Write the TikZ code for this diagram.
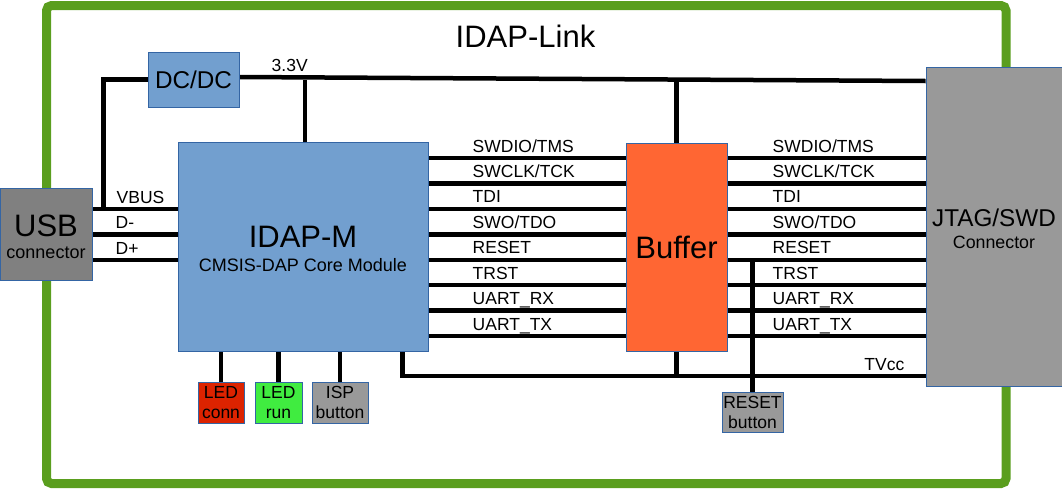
\documentclass[tikz,border=0pt]{standalone}
\usepackage{fontspec}
\setmainfont{Liberation Sans}
\usetikzlibrary{positioning, calc, backgrounds}
\definecolor{framegreen}{RGB}{90, 158, 30}
\definecolor{boxblue}{RGB}{114, 159, 207}
\definecolor{boxedge}{RGB}{52, 101, 164}
\definecolor{bufferorange}{RGB}{255, 102, 51}
\definecolor{usbgray}{RGB}{128, 128, 128}
\definecolor{pingray}{RGB}{153, 153, 153}
\definecolor{ledred}{RGB}{220, 35, 0}
\definecolor{ledgreen}{RGB}{64, 236, 64}
\newcommand{\txtsmall}{\fontsize{17.5pt}{20pt}\selectfont}
\newcommand{\txtmid}{\fontsize{24.3pt}{24pt}\selectfont}
\newcommand{\txtbig}{\fontsize{31pt}{31pt}\selectfont}

\begin{document}
\begin{tikzpicture}[
    x=1pt, y=-1pt,
    block/.style={rectangle, draw=boxedge, line width=1pt, inner sep=0pt, align=center, text=black},
    module/.style={block, fill=boxblue},
    conn/.style={block, fill=pingray, font=\fontsize{17.8pt}{22pt}\selectfont},
    smallbox/.style={block, fill=pingray, font=\txtsmall, minimum height=41pt},
    wire/.style={line width=4.5pt},
    sig/.style={anchor=base west, inner sep=0pt, font=\txtsmall}
]
    \useasboundingbox (0,0) rectangle (1062,488);

    % Title
    \node[font=\txtbig, anchor=base] (title) at (525.5,47) {IDAP-Link};

    % Main blocks
    \node[module, font=\txtmid, minimum width=91pt, minimum height=55pt] (dcdc) at (193.5,79.5) {DC/DC};
    \node[module, font=\fontsize{18pt}{24pt}\selectfont, minimum width=250pt, minimum height=209pt] (idapm) at (303,246.5) {{\txtbig\rule{0pt}{27pt}IDAP-M}\\CMSIS-DAP Core Module};
    \node[block, fill=bufferorange, font=\txtbig, minimum width=101pt, minimum height=208pt] (buf) at (676.5,247) {Buffer};
    \node[conn, fill=usbgray, font=\fontsize{18pt}{22pt}\selectfont, minimum width=92pt, minimum height=92pt] (usb) at (46,234) {{\txtbig\rule{0pt}{28pt}USB}\\connector};
    \node[conn, minimum width=136pt, minimum height=319pt] (jtag) at (994,226.5) {{\txtmid\rule{0pt}{23pt}JTAG/SWD}\\Connector};

    % LEDs and buttons
    \node[smallbox, fill=ledred, minimum width=46pt, below right=30pt and 20pt of idapm.south west] (ledconn) {LED\\conn};
    \node[smallbox, fill=ledgreen, minimum width=47pt, right=10pt of ledconn] (ledrun) {LED\\run};
    \node[smallbox, minimum width=56pt, right=9pt of ledrun] (isp) {ISP\\button};
    \node[smallbox, minimum width=61pt, minimum height=40pt] (rstbtn) at (752.5,412) {RESET\\button};

    \begin{scope}[on background layer]
        % Outer frame
        \draw[framegreen, line width=9pt, rounded corners=5pt] (46.5,5.5) rectangle (1006,483.5);

        % Target signals
        \foreach \sig [count=\i] in {{SWDIO/TMS},{SWCLK/TCK},TDI,{SWO/TDO},RESET,TRST,UART\_RX,UART\_TX} {
            \pgfmathsetmacro{\yy}{132.6+25.43*\i}
            \coordinate (l\i) at (0,\yy);
            \draw[wire] (idapm.east |- l\i) -- (buf.west |- l\i);
            \draw[wire] (buf.east |- l\i) -- (jtag.west |- l\i);
            \node[sig] (sa\i) at ($(idapm.east |- l\i)+(44,-6)$) {\sig};
            \node[sig] (sb\i) at ($(buf.east |- l\i)+(45,-6)$) {\sig};
        }

        % USB side
        \draw[wire] (usb.east |- l3) -- (idapm.west |- l3);
        \draw[wire] (usb.east |- l4) -- (idapm.west |- l4);
        \draw[wire] (usb.east |- l5) -- (idapm.west |- l5);
        \node[sig] (vbus) at ($(usb.east |- l3)+(24,-5.5)$) {VBUS};
        \node[sig] (dm) at ($(usb.east |- l4)+(23,-5.5)$) {D-};
        \node[sig] (dp) at ($(usb.east |- l5)+(23,-5.5)$) {D+};
        \draw[wire] (dcdc.west) -| ($(usb.east |- l3)+(11,0)$);

        % 3.3V rail
        \coordinate (v33) at (0,81);
        \draw[wire] ($(dcdc.east)+(0,-2.5)$) -- (jtag.west |- v33);
        \node[sig] (v33lbl) at ($(dcdc.east)+(32,-8.5)$) {3.3V};
        \draw[wire] ($(idapm.north)+(2,0)$) -- ($(idapm.north |- dcdc.east)+(2,0)$);
        \draw[wire] (buf.north) -- (buf.north |- dcdc.east);

        % TVcc rail
        \coordinate (tv) at (0,376);
        \draw[wire] ($(idapm.south east)+(-26,0)$) |- (jtag.west |- tv);
        \draw[wire] (buf.south) -- (buf.south |- tv);
        \node[sig, anchor=base east] (tvlbl) at ($(jtag.west |- tv)+(-21,-5.5)$) {TVcc};

        % LEDs, buttons
        \draw[wire] (ledconn.north) -- (ledconn.north |- idapm.south);
        \draw[wire] (ledrun.north) -- (ledrun.north |- idapm.south);
        \draw[wire] (isp.north) -- (isp.north |- idapm.south);
        \draw[wire] (rstbtn.north) -- (rstbtn.north |- l5);
    \end{scope}
\end{tikzpicture}
\end{document}
